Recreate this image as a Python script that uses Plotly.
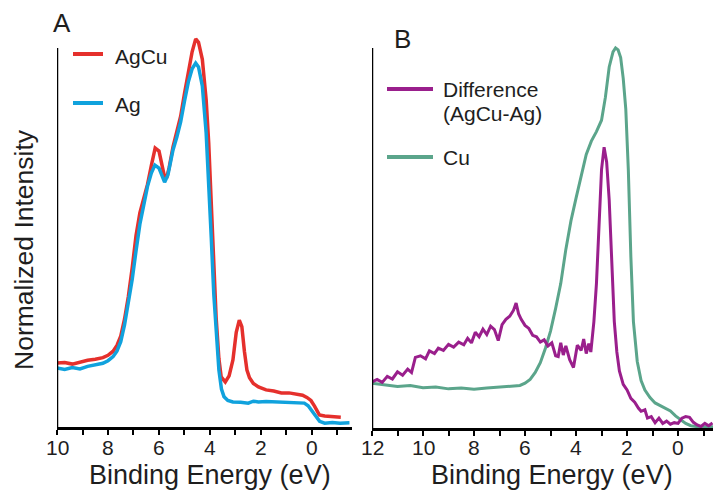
import plotly.graph_objects as go

# ---------------- data ----------------
agcu_x = [10.0, 9.7, 9.4, 9.1, 8.8, 8.5, 8.2, 8.0, 7.8, 7.65, 7.5, 7.35, 7.2, 7.05, 6.9, 6.75, 6.6, 6.45, 6.3, 6.15,
          6.0, 5.9, 5.8, 5.7, 5.6, 5.45, 5.3, 5.15, 5.0, 4.85, 4.7, 4.56, 4.45, 4.3, 4.15, 4.05, 3.95, 3.85, 3.76, 3.65,
          3.56, 3.4, 3.25, 3.1, 2.97, 2.85, 2.75, 2.65, 2.55, 2.45, 2.3, 2.1, 1.8, 1.5, 1.2, 0.9, 0.6, 0.37, 0.2, 0.04,
          -0.1, -0.29, -0.5, -0.8, -1.13]
agcu_y = [16.9, 17.0, 16.6, 17.2, 17.6, 17.9, 18.3, 18.9, 20.0, 21.5, 24.0, 28.5, 34.5, 42.0, 50.5, 56.5, 60.5, 64.0, 69.0, 73.6,
          72.8, 69.5, 66.5, 65.7, 68.5, 73.9, 78.0, 82.0, 88.0, 94.0, 99.0, 102.4, 101.5, 97.0, 86.3, 75.0, 59.9, 43.0, 29.0, 18.0,
          13.2, 11.9, 13.5, 17.7, 25.0, 28.2, 26.5, 20.0, 15.0, 13.0, 11.5, 10.6, 9.8, 9.5, 9.0, 9.0, 8.6, 8.4, 7.8, 7.0,
          5.5, 3.2, 2.9, 2.8, 2.6]

ag_x = [10.0, 9.7, 9.4, 9.1, 8.8, 8.5, 8.2, 8.0, 7.8, 7.65, 7.5, 7.35, 7.2, 7.05, 6.9, 6.75, 6.6, 6.45, 6.3, 6.16,
        6.0, 5.9, 5.78, 5.65, 5.45, 5.3, 5.15, 5.0, 4.85, 4.7, 4.56, 4.45, 4.3, 4.15, 4.05, 3.95, 3.85, 3.75, 3.65, 3.55,
        3.45, 3.3, 3.1, 2.8, 2.5, 2.3, 2.1, 1.8, 1.5, 1.2, 0.9, 0.6, 0.3, 0.15, 0.0, -0.15, -0.3, -0.5, -0.8, -1.1, -1.47]
ag_y = [15.6, 15.2, 15.7, 15.3, 16.0, 16.4, 16.8, 17.5, 18.6, 20.0, 22.5, 27.0, 32.5, 39.0, 46.5, 53.5, 58.5, 63.5, 67.0, 69.1,
        68.3, 66.5, 64.6, 66.5, 73.1, 76.5, 80.5, 86.0, 91.0, 94.5, 96.0, 95.0, 90.0, 77.6, 65.0, 50.0, 35.0, 24.0, 15.0, 10.0,
        8.0, 7.0, 6.6, 6.5, 6.3, 6.8, 6.6, 6.7, 6.6, 6.6, 6.6, 6.5, 6.3, 5.6, 4.2, 2.6, 1.5, 1.0, 1.2, 1.0, 1.1]

diff_x = [12.0, 11.8, 11.6, 11.4, 11.2, 11.0, 10.8, 10.6, 10.45, 10.3, 10.1, 9.9, 9.75, 9.55, 9.4, 9.2, 9.0, 8.8, 8.6, 8.4,
          8.25, 8.1, 7.95, 7.8, 7.65, 7.5, 7.35, 7.2, 7.05, 6.9, 6.75, 6.6, 6.45, 6.35, 6.25, 6.15, 6.0, 5.85, 5.7, 5.55,
          5.4, 5.25, 5.1, 4.95, 4.8, 4.7, 4.6, 4.5, 4.4, 4.25, 4.1, 3.95, 3.8, 3.7, 3.6, 3.5, 3.42, 3.3, 3.2, 3.1,
          3.0, 2.9, 2.8, 2.7, 2.6, 2.5, 2.4, 2.3, 2.15, 2.0, 1.85, 1.7, 1.55, 1.45, 1.3, 1.2, 1.05, 0.9, 0.75, 0.6,
          0.45, 0.3, 0.15, 0.0, -0.15, -0.3, -0.45, -0.6, -0.75, -0.9, -1.05, -1.2, -1.35]
diff_y = [12.1, 12.8, 12.0, 13.6, 12.9, 14.8, 13.9, 15.5, 14.6, 18.6, 19.0, 18.2, 20.3, 19.6, 21.0, 20.4, 22.0, 21.3, 22.6, 21.9,
          23.6, 22.4, 25.2, 24.0, 26.0, 24.6, 26.8, 25.9, 23.0, 27.2, 28.6, 29.4, 31.0, 32.9, 30.0, 28.6, 27.0, 26.2, 24.4, 24.0,
          22.6, 23.2, 21.6, 22.4, 19.0, 18.8, 22.4, 19.2, 21.6, 18.0, 15.9, 21.8, 20.4, 23.4, 19.6, 22.2, 20.0, 28.0, 38.0, 55.0,
          68.0, 73.9, 70.0, 60.0, 42.0, 28.0, 20.0, 15.0, 11.5, 10.0, 7.8, 6.8, 5.2, 4.4, 4.8, 2.6, 3.0, 1.4, 2.6, 1.2,
          1.8, 1.0, 1.4, 1.2, 2.6, 3.0, 2.8, 1.5, 0.8, 0.4, 1.2, 0.6, 1.3]

cu_x = [12.0, 11.5, 11.0, 10.5, 10.0, 9.5, 9.0, 8.5, 8.0, 7.5, 7.0, 6.5, 6.2, 6.0, 5.8, 5.6, 5.4, 5.2, 5.0, 4.8,
        4.6, 4.4, 4.2, 4.0, 3.8, 3.6, 3.4, 3.2, 3.0, 2.85, 2.7, 2.55, 2.45, 2.35, 2.25, 2.15, 2.05, 1.95, 1.85, 1.75,
        1.6, 1.45, 1.3, 1.1, 0.9, 0.6, 0.3, 0.1, -0.1, -0.3, -0.5, -0.8, -1.37]
cu_y = [11.8, 11.4, 10.9, 11.2, 10.6, 10.8, 10.3, 10.5, 10.2, 10.5, 10.7, 11.0, 11.2, 11.8, 12.8, 14.6, 17.2, 21.0, 25.5, 31.5,
        38.0, 47.0, 54.5, 60.5, 66.0, 72.0, 75.5, 78.0, 81.0, 87.0, 95.0, 99.0, 100.0, 99.5, 97.5, 92.0, 84.0, 68.0, 45.0, 28.0,
        17.5, 12.5, 10.0, 8.0, 6.6, 5.6, 4.5, 3.2, 2.2, 1.2, 0.6, 0.3, 0.3]

a_ticks = [10, 8, 6, 4, 2, 0]
a_minor = [9, 7, 5, 3, 1, -1]
b_ticks = [12, 10, 8, 6, 4, 2, 0]
b_minor = [11, 9, 7, 5, 3, 1, -1]

C_RED = "#E5302C"
C_BLUE = "#10A2DD"
C_PURPLE = "#9A1F8C"
C_GREEN = "#5BA58B"
TXT = "#1E1E1E"
FONT = "Arial, Liberation Sans, sans-serif"

W, H = 713, 491
def px(x):
    return x / W
def py(y):
    return 1 - y / H

fig = go.Figure()
fig.add_trace(go.Scatter(x=agcu_x, y=agcu_y, mode="lines", line=dict(color=C_RED, width=3.5), xaxis="x", yaxis="y"))
fig.add_trace(go.Scatter(x=ag_x, y=ag_y, mode="lines", line=dict(color=C_BLUE, width=3.5), xaxis="x", yaxis="y"))
fig.add_trace(go.Scatter(x=cu_x, y=cu_y, mode="lines", line=dict(color=C_GREEN, width=3), xaxis="x2", yaxis="y2"))
fig.add_trace(go.Scatter(x=diff_x, y=diff_y, mode="lines", line=dict(color=C_PURPLE, width=3), xaxis="x2", yaxis="y2"))

xcommon = dict(showgrid=False, zeroline=False, showline=True, linecolor="black", linewidth=2.5,
               ticks="outside", ticklen=5, tickwidth=2, tickcolor="black", showticklabels=False,
               tickmode="array")
ycommon = dict(showgrid=False, zeroline=False, showline=False, showticklabels=False, ticks="", range=[0, 105])

fig.update_layout(
    width=W, height=H, margin=dict(l=0, r=0, t=0, b=0),
    paper_bgcolor="white", plot_bgcolor="white", showlegend=False,
    xaxis=dict(domain=[px(57), px(352)], range=[10.0, -1.57], anchor="y", tickvals=a_ticks,
               minor=dict(tickvals=a_minor, ticks="outside", ticklen=5, tickwidth=2, tickcolor="black"), **xcommon),
    yaxis=dict(domain=[py(427), py(427 - 379 * 1.05)], anchor="x", **ycommon),
    xaxis2=dict(domain=[px(372), 1.0], range=[12.0, -1.37], anchor="y2", tickvals=b_ticks,
                minor=dict(tickvals=b_minor, ticks="outside", ticklen=5, tickwidth=2, tickcolor="black"), **xcommon),
    yaxis2=dict(domain=[py(428), py(428 - 380 * 1.05)], anchor="x2", **ycommon),
)

shapes = [
    dict(type="line", xref="x", yref="y", x0=10.0, x1=10.0, y0=0, y1=100, line=dict(color="black", width=2.5)),
    dict(type="line", xref="x2", yref="y2", x0=12.0, x1=12.0, y0=0, y1=100, line=dict(color="black", width=2.5)),
    # legend swatches
    dict(type="line", xref="paper", yref="paper", x0=px(73), x1=px(103), y0=py(54), y1=py(54), line=dict(color=C_RED, width=4)),
    dict(type="line", xref="paper", yref="paper", x0=px(73), x1=px(103), y0=py(103), y1=py(103), line=dict(color=C_BLUE, width=4)),
    dict(type="line", xref="paper", yref="paper", x0=px(387), x1=px(433), y0=py(89), y1=py(89), line=dict(color=C_PURPLE, width=4)),
    dict(type="line", xref="paper", yref="paper", x0=px(387), x1=px(433), y0=py(157), y1=py(157), line=dict(color=C_GREEN, width=4)),
]
fig.update_layout(shapes=shapes)

def ann(text, x, y, size, xanchor="left", yanchor="middle", angle=0):
    return dict(text=text, x=px(x), y=py(y), xref="paper", yref="paper", showarrow=False,
                xanchor=xanchor, yanchor=yanchor, textangle=angle,
                font=dict(family=FONT, size=size, color=TXT))

annotations = [
    ann("A", 62, 23, 26, xanchor="center"),
    ann("B", 402, 39, 26, xanchor="center"),
    ann("AgCu", 113, 56, 21),
    ann("Ag", 113, 105, 21),
    ann("Difference", 441, 89, 21),
    ann("(AgCu-Ag)", 441, 113, 21),
    ann("Cu", 441, 157, 21),
    ann("Binding Energy (eV)", 210, 475, 27, xanchor="center"),
    ann("Binding Energy (eV)", 552, 475, 27, xanchor="center"),
    ann("Normalized Intensity", 24, 250, 26.5, xanchor="center", angle=-90),
]
# tick labels positioned by the axes' own data scale
for v in a_ticks:
    annotations.append(dict(text=str(v), x=v, xref="x", y=py(447), yref="paper", showarrow=False,
                            xanchor="center", yanchor="middle", font=dict(family=FONT, size=21, color=TXT)))
for v in b_ticks:
    annotations.append(dict(text=str(v), x=v, xref="x2", y=py(447), yref="paper", showarrow=False,
                            xanchor="center", yanchor="middle", font=dict(family=FONT, size=21, color=TXT)))
fig.update_layout(annotations=annotations)

fig.write_html("out.html")
